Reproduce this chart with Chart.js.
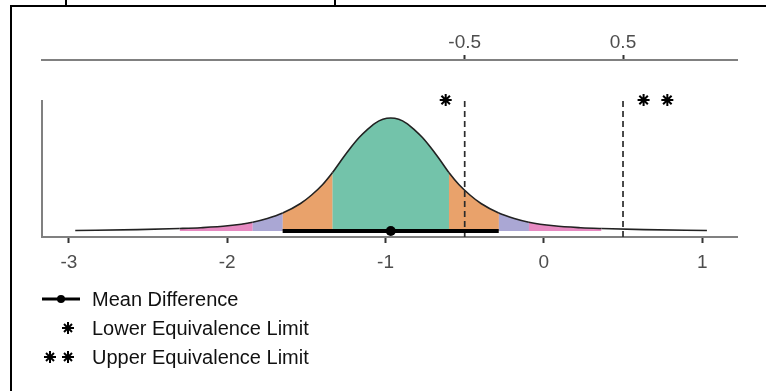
<!DOCTYPE html>
<html>
<head>
<meta charset="utf-8">
<script src="https://cdn.jsdelivr.net/npm/chart.js@4"></script>
<style>
body { margin: 0; background: #fff; font-family: "Liberation Sans", Arial, sans-serif; }
#wrap { position: relative; width: 766px; height: 391px; overflow: hidden; }
#frame { position: absolute; left: 10px; top: 5px; right: -10px; bottom: -10px; border-top: 2px solid #000; border-left: 2px solid #000; }
.nub { position: absolute; top: 0; width: 2px; height: 5px; background: #000; }
canvas { position: absolute; left: 0; top: 0; }
.leg { position: absolute; left: 0; height: 22px; line-height: 22px; font-size: 20px; color: #111; }
.leg svg { position: absolute; top: 0; }
.leg span { position: absolute; left: 92px; white-space: nowrap; }
</style>
</head>
<body>
<div id="wrap">
    <div class="nub" style="left:65px"></div>
    <div class="nub" style="left:334px"></div>
    <div id="frame"></div>
    <canvas id="chart" width="766" height="391"></canvas>

    <div class="leg" style="top:288px">
        <svg style="left:42px" width="40" height="22"><line x1="0" y1="11" x2="38" y2="11" stroke="#000" stroke-width="3"/><circle cx="19" cy="11" r="4" fill="#000"/></svg>
        <span>Mean Difference</span>
    </div>
    <div class="leg" style="top:317px">
        <svg style="left:61px" width="14" height="22"><g stroke="#000" stroke-width="2"><line x1="7" y1="5" x2="7" y2="17"/><line x1="1" y1="11" x2="13" y2="11"/><line x1="3" y1="7" x2="11" y2="15"/><line x1="11" y1="7" x2="3" y2="15"/></g></svg>
        <span>Lower Equivalence Limit</span>
    </div>
    <div class="leg" style="top:346px">
        <svg style="left:43px" width="32" height="22"><g stroke="#000" stroke-width="2"><line x1="7" y1="5" x2="7" y2="17"/><line x1="1" y1="11" x2="13" y2="11"/><line x1="3" y1="7" x2="11" y2="15"/><line x1="11" y1="7" x2="3" y2="15"/><line x1="25" y1="5" x2="25" y2="17"/><line x1="19" y1="11" x2="31" y2="11"/><line x1="21" y1="7" x2="29" y2="15"/><line x1="29" y1="7" x2="21" y2="15"/></g></svg>
        <span>Upper Equivalence Limit</span>
    </div>
</div>

<script>
// density curve
const curveX = [-2.96, -2.567, -2.30, -2.167, -1.997, -1.84, -1.747, -1.65, -1.537, -1.467, -1.397, -1.335, -1.267, -1.217, -1.167, -1.117, -1.067, -1.017,
                -0.967, -0.917, -0.867, -0.817, -0.767, -0.717, -0.667, -0.60, -0.537, -0.467, -0.397, -0.285, -0.187, -0.095, 0.063, 0.233, 0.363, 0.633, 1.03];
const curveY = [0.005, 0.014, 0.025, 0.033, 0.052, 0.088, 0.125, 0.18, 0.275, 0.36, 0.465, 0.585, 0.735, 0.84, 0.935, 1.012, 1.077, 1.117,
                1.13, 1.117, 1.077, 1.012, 0.935, 0.84, 0.735, 0.585, 0.465, 0.36, 0.275, 0.18, 0.125, 0.088, 0.052, 0.033, 0.025, 0.014, 0.005];

// shaded bands under the curve
const bandFrom = [-2.30, -1.84, -1.65, -1.335, -0.60, -0.285, -0.095];
const bandTo   = [-1.84, -1.65, -1.335, -0.60, -0.285, -0.095, 0.363];
const bandColors = ["#e78ac2", "#aaa7d4", "#e9a26b", "#73c3aa", "#e9a26b", "#aaa7d4", "#e78ac2"];

const meanDiff = -0.967;
const ciLow = -1.65;
const ciHigh = -0.285;
const eqLimits = [-0.5, 0.5];
const lowerStarX = [-0.62];
const upperStarX = [0.63, 0.78];
const starY = 1.31;

const bottomTicks = [-3, -2, -1, 0, 1];
const topTicks = [-0.5, 0.5];

const xMin = -3.17, xMax = 1.22;
const yMin = -0.06, yMax = 1.71;
const yAxisTop = 1.31;
const dashTop = 1.34;

const font = { family: "'Liberation Sans', Arial, sans-serif", size: 19 };

function bandColor(x) {
    for (let i = 0; i < bandFrom.length; i++) {
        if (x >= bandFrom[i] - 1e-9 && x < bandTo[i] - 1e-9) return bandColors[i];
    }
    return "rgba(0,0,0,0)";
}

const curveData = curveX.map((x, i) => ({ x: x, y: curveY[i] }));

let datasets = [];
// mean point + interval
datasets.push({ type: "scatter", data: [{ x: meanDiff, y: 0 }], pointRadius: 5, pointBackgroundColor: "#000", pointBorderWidth: 0 });
datasets.push({ type: "line", data: [{ x: ciLow, y: 0 }, { x: ciHigh, y: 0 }], borderColor: "#000", borderWidth: 4, pointRadius: 0 });
// equivalence markers
datasets.push({ type: "scatter", data: lowerStarX.concat(upperStarX).map(x => ({ x: x, y: starY })),
    pointStyle: "star", pointRadius: 6, borderColor: "#000", pointBorderWidth: 2 });
eqLimits.forEach(v => {
    datasets.push({ type: "line", data: [{ x: v, y: yMin }, { x: v, y: dashTop }], borderColor: "#2b2b2b",
        borderWidth: 1.7, borderDash: [6, 4], pointRadius: 0 });
});
// the density: outline on top, then the band fill repeated so the seams between bands close up
datasets.push({
    type: "line", data: curveData, borderColor: "#222", borderWidth: 1.6, pointRadius: 0,
    cubicInterpolationMode: "monotone", fill: "origin", backgroundColor: "rgba(0,0,0,0)",
    segment: { backgroundColor: ctx => bandColor(curveX[ctx.p0DataIndex]) }
});
for (let k = 0; k < 2; k++) {
    datasets.push({
        type: "line", data: curveData, borderWidth: 0, borderColor: "rgba(0,0,0,0)", pointRadius: 0,
        cubicInterpolationMode: "monotone", fill: "origin", backgroundColor: "rgba(0,0,0,0)",
        segment: { backgroundColor: ctx => bandColor(curveX[ctx.p0DataIndex]) }
    });
}

const yAxisLine = {
    id: "yAxisLine",
    afterDraw(chart) {
        let ctx = chart.ctx, x = chart.scales.x, y = chart.scales.y;
        ctx.save();
        ctx.strokeStyle = "#808080";
        ctx.lineWidth = 2;
        ctx.beginPath();
        ctx.moveTo(x.left, y.getPixelForValue(yAxisTop));
        ctx.lineTo(x.left, y.getPixelForValue(yMin) + 1);
        ctx.stroke();
        ctx.restore();
    }
};

new Chart(document.getElementById("chart").getContext("2d"), {
    type: "line",
    data: { datasets: datasets },
    options: {
        responsive: false,
        animation: false,
        devicePixelRatio: 1,
        layout: { padding: { left: 42, right: 29, top: 0, bottom: 0 } },
        plugins: { legend: { display: false }, tooltip: { enabled: false } },
        scales: {
            x: {
                type: "linear", position: "bottom", min: xMin, max: xMax,
                afterBuildTicks: s => { s.ticks = bottomTicks.map(v => ({ value: v })); },
                afterFit: s => { s.height = 154; },
                grid: { drawOnChartArea: false, tickLength: 6, tickColor: "#333", tickWidth: 2 },
                border: { color: "#808080", width: 2 },
                ticks: { color: "#4d4d4d", font: font, padding: 8, maxRotation: 0 }
            },
            x2: {
                type: "linear", position: "top", min: xMin, max: xMax,
                afterBuildTicks: s => { s.ticks = topTicks.map(v => ({ value: v })); },
                afterFit: s => { s.height = 60; },
                grid: { drawOnChartArea: false, tickLength: 5, tickColor: "#333", tickWidth: 2 },
                border: { color: "#808080", width: 2 },
                ticks: { color: "#4d4d4d", font: font, padding: 1, maxRotation: 0 }
            },
            y: { type: "linear", display: false, min: yMin, max: yMax }
        }
    },
    plugins: [yAxisLine]
});
</script>
</body>
</html>
